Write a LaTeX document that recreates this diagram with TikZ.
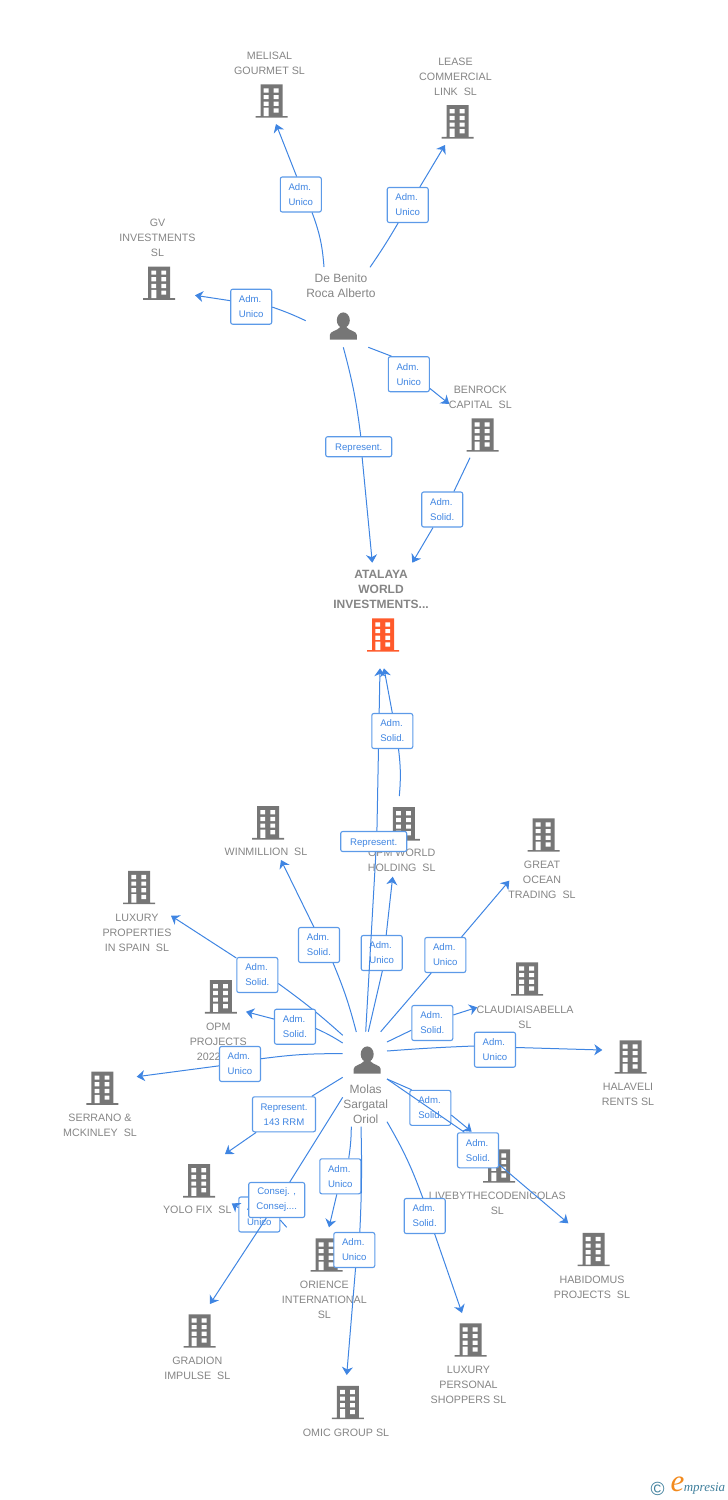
\documentclass[tikz,border=0pt]{standalone}
\usepackage{fontspec}
\setmainfont{Liberation Sans}
\newfontfamily\logofont{Liberation Serif}
\usetikzlibrary{arrows.meta}
\definecolor{lnkblue}{HTML}{3F85E2}
\definecolor{boxblue}{HTML}{5C9AE8}
\definecolor{txtgray}{HTML}{858585}
\definecolor{icongray}{HTML}{767676}
\definecolor{iconorange}{HTML}{FF5A2B}
\definecolor{logoteal}{HTML}{3F7F9C}
\definecolor{logoorange}{HTML}{F28A1E}
\tikzset{
  lnk/.style={draw=lnkblue, line width=1pt},
  tip/.style={-{Stealth[length=8pt,width=11pt,inset=2.5pt]}},
  role/.style={draw=boxblue, line width=1.1pt, fill=white, rounded corners=2pt, text=lnkblue, align=left,
    font=\fontsize{9.6}{15}\selectfont, minimum width=41pt, minimum height=35pt, inner sep=0pt,
    execute at begin node={\rule{0pt}{9pt}}},
  co/.style={text=txtgray, align=center, inner sep=0pt, font=\fontsize{10.7}{15}\selectfont},
  pers/.style={text=txtgray, align=center, inner sep=0pt, font=\fontsize{12}{15}\selectfont},
  pics/bldg/.style={code={
    \fill[#1] (-11,-16.7) rectangle (11,15) (-16,15) rectangle (16,16.7);
    \fill[white] (-7.8,-12.7) rectangle (-3,-8.5) (2.2,-12.7) rectangle (7,-8.5)
      (-7.8,-6) rectangle (-3,-1.8) (2.2,-6) rectangle (7,-1.8)
      (-7.8,.7) rectangle (-3,4.9) (2.2,.7) rectangle (7,4.9)
      (-7.8,6.7) rectangle (-2.8,15) (2.2,7.3) rectangle (7,11.5);
  }},
  pics/user/.style={code={
    \fill[icongray] (0,-5.8) ellipse (6.5 and 7.8);
    \fill[icongray] (-13.5,13.5) -- (-13.5,9) .. controls (-13.5,5) and (-6,5) .. (-3,1) -- (3,1)
      .. controls (6,5) and (13.5,5) .. (13.5,9) -- (13.5,13.5) -- cycle;
  }}
}
\begin{document}
\begin{tikzpicture}[x=1pt,y=-1pt]
  \useasboundingbox (0,0) rectangle (728,1500);
  % buildings and names
  \pic at (271.5,101) {bldg=icongray};
  \node[co] (melisalL) at (269.5,63.5) {MELISAL\\GOURMET SL};
  \pic at (457.5,121.8) {bldg=icongray};
  \node[co] (leaseL) at (455.5,77) {LEASE\\COMMERCIAL\\LINK~~SL};
  \pic at (159.2,283.2) {bldg=icongray};
  \node[co] (gvL) at (157.5,238) {GV\\INVESTMENTS\\SL};
  \pic at (482.5,435) {bldg=icongray};
  \node[co] (benrockL) at (480.3,397.5) {BENROCK\\CAPITAL~~SL};
  \pic at (383.2,635) {bldg=iconorange};
  \node[co,font=\fontsize{12}{15}\selectfont\bfseries] (atalayaL) at (381,589.5) {ATALAYA\\WORLD\\INVESTMENTS...};
  \pic at (268.2,822.8) {bldg=icongray};
  \node[co] (winmillionL) at (266,852) {WINMILLION~~SL};
  \pic at (403.8,823.8) {bldg=icongray};
  \node[co] (opmworldL) at (401.7,860.5) {OPM WORLD\\HOLDING~~SL};
  \pic at (543.5,835) {bldg=icongray};
  \node[co] (greatL) at (542,880) {GREAT\\OCEAN\\TRADING~~SL};
  \pic at (527,979) {bldg=icongray};
  \node[co] (claudiaL) at (525,1017.5) {CLAUDIAISABELLA\\SL};
  \pic at (630.5,1057) {bldg=icongray};
  \node[co] (halaveliL) at (628,1094.5) {HALAVELI\\RENTS SL};
  \pic at (139.2,887.5) {bldg=icongray};
  \node[co] (luxuryL) at (137,933) {LUXURY\\PROPERTIES\\IN SPAIN~~SL};
  \pic at (220.8,996.8) {bldg=icongray};
  \node[co] (opmprojL) at (218.3,1042) {OPM\\PROJECTS\\2022\phantom{~~SL}};
  \pic at (102.3,1088.2) {bldg=icongray};
  \node[co] (serranoL) at (100,1125.5) {SERRANO \&\\MCKINLEY~~SL};
  \pic at (199.2,1180.8) {bldg=icongray};
  \node[co] (yoloL) at (197.3,1210) {YOLO FIX~~SL};
  \pic at (199.5,1331) {bldg=icongray};
  \node[co] (gradionL) at (197.3,1368.5) {GRADION\\IMPULSE~~SL};
  \pic at (326.5,1255) {bldg=icongray};
  \node[co] (orienceL) at (324.3,1300) {ORIENCE\\INTERNATIONAL\\SL};
  \pic at (347.8,1402.5) {bldg=icongray};
  \node[co] (omicL) at (346,1433) {OMIC GROUP SL};
  \pic at (470.5,1340) {bldg=icongray};
  \node[co] (luxpersL) at (468.5,1385) {LUXURY\\PERSONAL\\SHOPPERS SL};
  \pic at (593.5,1249.5) {bldg=icongray};
  \node[co] (habidomusL) at (592,1287.5) {HABIDOMUS\\PROJECTS~~SL};
  \pic at (499.2,1166) {bldg=icongray};
  \node[co] (livebyL) at (497.3,1203.5) {LIVEBYTHECODENICOLAS\\SL};
  % people
  \pic at (343.3,326) {user};
  \node[pers] (debenito) at (341,285.5) {De Benito\\Roca Alberto};
  \pic at (367.2,1060) {user};
  \node[pers] (molas) at (365.7,1104) {Molas\\Sargatal\\Oriol};
  % links of De Benito
  \coordinate (melisalA) at (324,267); \coordinate (melisalB) at (276,124);
  \node[role] (melisalR) at (300.8,194.5) {Adm.\\Unico};
  \draw[lnk] (melisalA) to[bend right=8] (melisalR.-58);
  \draw[lnk,tip] (melisalR.103) -- (melisalB);
  \coordinate (leaseA) at (370,267.3); \coordinate (leaseB) at (445,145);
  \node[role] (leaseR) at (407.7,205) {Adm.\\Unico};
  \draw[lnk] (leaseA) to[bend right=2] (leaseR.-118.5);
  \draw[lnk,tip] (leaseR.56.8) -- (leaseB);
  \coordinate (gvA) at (305.7,320.7); \coordinate (gvB) at (195,295.3);
  \node[role] (gvR) at (251.2,306.7) {Adm.\\Unico};
  \draw[lnk] (gvA) to[bend right=3] (gvR.-1);
  \draw[lnk,tip] (gvR.164.5) -- (gvB);
  \coordinate (benrockA) at (368.3,347.3); \coordinate (benrockB) at (449.3,404);
  \node[role] (benrockR) at (408.8,374.2) {Adm.\\Unico};
  \draw[lnk] (benrockA) -- (benrockR.134);
  \draw[lnk,tip] (benrockR.-34.5) -- (benrockB);
  \coordinate (repupA) at (343.3,347.3); \coordinate (repupB) at (372.3,562.7);
  \node[role,minimum width=66pt,minimum height=20pt] (repupR) at (358.7,446.7) {Represent.};
  \draw[lnk] (repupA) to[bend left=4] (repupR.79);
  \draw[lnk,tip] (repupR.-72) -- (repupB);
  \coordinate (benatA) at (470,457.7); \coordinate (benatB) at (412.3,562.7);
  \node[role] (benatR) at (442.2,509.5) {Adm.\\Solid.};
  \draw[lnk] (benatA) -- (benatR.57);
  \draw[lnk,tip] (benatR.-117) -- (benatB);
  % links of Molas
  \coordinate (opmworldA) at (368.3,1031.7); \coordinate (opmworldB) at (392.7,876.7);
  \node[role] (opmworldR) at (381.7,953) {Adm.\\Unico};
  \draw[lnk] (opmworldA) -- (opmworldR.-88);
  \draw[lnk,tip] (opmworldR.76) -- (opmworldB);
  \coordinate (replowA) at (365.7,1031.7); \coordinate (replowB) at (380,668.3);
  \node[role,minimum width=66pt,minimum height=20pt] (replowR) at (373.7,841.5) {Represent.};
  \draw[lnk] (replowA) -- (replowR.-78);
  \draw[lnk,tip] (replowR.73) -- (replowB);
  \coordinate (opmatA) at (399.3,796); \coordinate (opmatB) at (384,668.3);
  \node[role] (opmatR) at (392.3,731) {Adm.\\Solid.};
  \draw[lnk] (opmatA) to[bend right=6] (opmatR.-71);
  \draw[lnk,tip] (opmatR.90) -- (opmatB);
  \coordinate (winmillionA) at (356.3,1032); \coordinate (winmillionB) at (281,860);
  \node[role] (winmillionR) at (319,945) {Adm.\\Solid.};
  \draw[lnk] (winmillionA) to[bend right=4] (winmillionR.-52.6);
  \draw[lnk,tip] (winmillionR.106) -- (winmillionB);
  \coordinate (greatA) at (380.7,1031.7); \coordinate (greatB) at (509.3,880.7);
  \node[role] (greatR) at (445.3,955) {Adm.\\Unico};
  \draw[lnk] (greatA) -- (greatR.-128);
  \draw[lnk,tip] (greatR.48) -- (greatB);
  \coordinate (claudiaA) at (387,1042); \coordinate (claudiaB) at (477.3,1007.3);
  \node[role] (claudiaR) at (432.3,1023) {Adm.\\Solid.};
  \draw[lnk] (claudiaA) -- (claudiaR.-161);
  \draw[lnk,tip] (claudiaR.21) -- (claudiaB);
  \coordinate (halaveliA) at (387,1051); \coordinate (halaveliB) at (602.3,1050);
  \node[role] (halaveliR) at (495,1049.7) {Adm.\\Unico};
  \draw[lnk] (halaveliA) to[bend left=1] (halaveliR.170.5);
  \draw[lnk,tip] (halaveliR.6.7) -- (halaveliB);
  \coordinate (luxuryA) at (342.7,1035.3); \coordinate (luxuryB) at (171,915.7);
  \node[role] (luxuryR) at (257.3,975) {Adm.\\Solid.};
  \draw[lnk] (luxuryA) to[bend right=3] (luxuryR.-22);
  \draw[lnk,tip] (luxuryR.141) -- (luxuryB);
  \coordinate (opmprojA) at (342.7,1043); \coordinate (opmprojB) at (246,1011.7);
  \node[role] (opmprojR) at (295,1026.7) {Adm.\\Solid.};
  \draw[lnk] (opmprojA) to[bend right=4] (opmprojR.-5.6);
  \draw[lnk,tip] (opmprojR.160) -- (opmprojB);
  \coordinate (serranoA) at (342.7,1053.7); \coordinate (serranoB) at (136.7,1076.7);
  \node[role] (serranoR) at (240,1064) {Adm.\\Unico};
  \draw[lnk] (serranoA) to[bend right=4] (serranoR.14);
  \draw[lnk,tip] (serranoR.-175) -- (serranoB);
  \coordinate (repcoA) at (342.7,1077.3); \coordinate (repcoB) at (225,1154);
  \node[role,align=center,minimum width=63pt] (repcoR) at (284,1114.3) {Represent.\\143 RRM};
  \draw[lnk] (repcoA) -- (repcoR.33);
  \draw[lnk,tip] (repcoR.-147.5) -- (repcoB);
  \coordinate (yoloA) at (286.7,1227.3); \coordinate (yoloB) at (231.7,1203.3);
  \node[role] (yoloR) at (259.3,1214.5) {Adm.\\Unico};
  \draw[lnk] (yoloA) -- (yoloR.-15);
  \draw[lnk,tip] (yoloR.162) -- (yoloB);
  \coordinate (gradionA) at (342.7,1097.3); \coordinate (gradionB) at (210,1304);
  \node[role,align=center,minimum width=56pt] (gradionR) at (276.7,1200) {Consej. ,\\Consej....};
  \draw[lnk] (gradionA) -- (gradionR.54);
  \draw[lnk,tip] (gradionR.-120) -- (gradionB);
  \coordinate (orienceA) at (351.3,1126.7); \coordinate (orienceB) at (329,1227.3);
  \node[role] (orienceR) at (340.3,1176.3) {Adm.\\Unico};
  \draw[lnk] (orienceA) to[bend left=4] (orienceR.65.6);
  \draw[lnk,tip] (orienceR.-101) -- (orienceB);
  \coordinate (omicA) at (361,1126.7); \coordinate (omicB) at (346.7,1375);
  \node[role] (omicR) at (354.3,1250) {Adm.\\Unico};
  \draw[lnk] (omicA) to[bend left=2] (omicR.73.6);
  \draw[lnk,tip] (omicR.-86.6) -- (omicB);
  \coordinate (luxpersA) at (387,1121.7); \coordinate (luxpersB) at (462,1313);
  \node[role] (luxpersR) at (424.7,1216) {Adm.\\Solid.};
  \draw[lnk] (luxpersA) to[bend left=5] (luxpersR.96.6);
  \draw[lnk,tip] (luxpersR.-61) -- (luxpersB);
  \coordinate (livebyA) at (387,1079); \coordinate (livebyB) at (471.7,1131.7);
  \node[role] (livebyR) at (430.3,1107.8) {Adm.\\Solid.};
  \draw[lnk] (livebyA) -- (livebyR.136);
  \draw[lnk,tip] (livebyR.-19) -- (livebyB);
  \coordinate (habidomusA) at (387,1079); \coordinate (habidomusB) at (568.3,1223.3);
  \node[role] (habidomusR) at (478,1150.3) {Adm.\\Solid.};
  \draw[lnk] (habidomusA) -- (habidomusR.127);
  \draw[lnk,tip] (habidomusR.-34.6) -- (habidomusB);
  % logo
  \node[text=logoteal,inner sep=0pt,font=\fontsize{19}{19}\selectfont] (copyr) at (657.7,1488.5) {\textcopyright};
  \node[text=logoorange,inner sep=0pt,font=\logofont\itshape\fontsize{31}{31}\selectfont] (logoe) at (677.5,1484.5) {e};
  \node[text=logoteal,inner sep=0pt,font=\logofont\itshape\fontsize{13}{13}\selectfont] (logot) at (704.5,1489) {mpresia};
\end{tikzpicture}
\end{document}
